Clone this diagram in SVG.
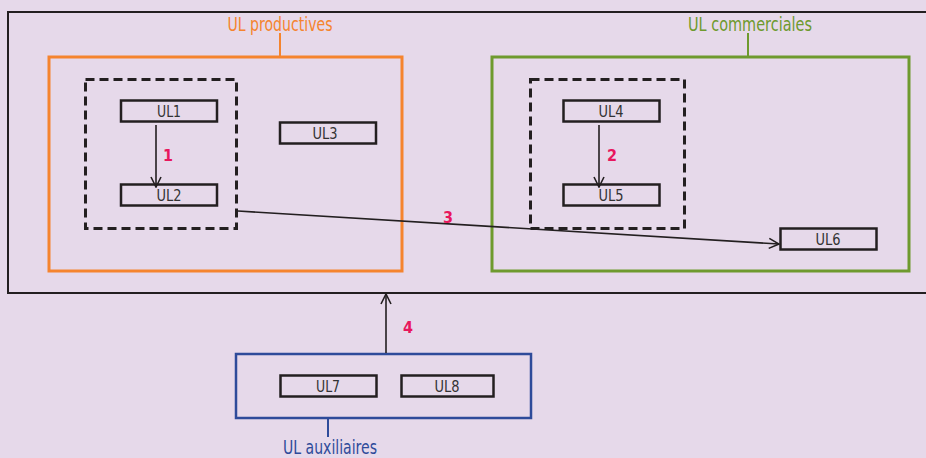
<svg xmlns="http://www.w3.org/2000/svg" width="926" height="458" viewBox="0 0 926 458">
<defs>
<style>
.box{fill:none;stroke:#231f20;stroke-width:2.5}
.dash{fill:none;stroke:#231f20;stroke-width:3;stroke-dasharray:9,5}
.t{font-family:"Liberation Sans Narrow","DejaVu Sans Condensed","Liberation Sans",sans-serif;font-size:16px;fill:#333;text-anchor:middle}
.lbl{font-family:"Liberation Sans Narrow","DejaVu Sans Condensed","Liberation Sans",sans-serif;font-size:20px;text-anchor:middle}
.num{font-family:"Liberation Sans Narrow","DejaVu Sans Condensed","Liberation Sans",sans-serif;font-size:16px;font-weight:bold;fill:#e8175d;text-anchor:middle}
.edge{fill:none;stroke:#231f20;stroke-width:1.6}
</style>
<marker id="arr" viewBox="0 0 12 12" refX="11" refY="6" markerWidth="12" markerHeight="12" markerUnits="userSpaceOnUse" orient="auto">
<path d="M1,1 L11,6 L1,11" fill="none" stroke="#231f20" stroke-width="1.6"/>
</marker>
</defs>
<rect width="926" height="458" fill="#e6d9ea"/>
<g id="outer"><rect x="8" y="12" width="930" height="281" fill="none" stroke="#231f20" stroke-width="2"/></g>
<g id="productives">
<rect x="49" y="57" width="353" height="214" fill="none" stroke="#f5842e" stroke-width="3"/>
<line x1="280" y1="33" x2="280" y2="57" stroke="#f5842e" stroke-width="2"/>
<text class="lbl" x="280" y="31" fill="#f5842e" textLength="105" lengthAdjust="spacingAndGlyphs">UL productives</text>
</g>
<g id="group12"><rect class="dash" x="85.5" y="79.5" width="151" height="149"/></g>
<g id="UL1"><rect class="box" x="121" y="100.5" width="96" height="21"/><text class="t" x="169" y="117" textLength="24" lengthAdjust="spacingAndGlyphs">UL1</text></g>
<g id="UL2"><rect class="box" x="121" y="184.5" width="96" height="21"/><text class="t" x="169" y="201" textLength="25" lengthAdjust="spacingAndGlyphs">UL2</text></g>
<g id="UL3"><rect class="box" x="280" y="122.5" width="96" height="21"/><text class="t" x="325" y="139" textLength="25" lengthAdjust="spacingAndGlyphs">UL3</text></g>
<g id="commerciales">
<rect x="492" y="57" width="417" height="214" fill="none" stroke="#6e9a2e" stroke-width="3"/>
<line x1="748" y1="33" x2="748" y2="57" stroke="#6e9a2e" stroke-width="2"/>
<text class="lbl" x="750" y="31" fill="#6e9a2e" textLength="124" lengthAdjust="spacingAndGlyphs">UL commerciales</text>
</g>
<g id="group45"><rect class="dash" x="530.5" y="79.5" width="154" height="149"/></g>
<g id="UL4"><rect class="box" x="563.5" y="100.5" width="96" height="21"/><text class="t" x="611" y="117" textLength="25" lengthAdjust="spacingAndGlyphs">UL4</text></g>
<g id="UL5"><rect class="box" x="563.5" y="184.5" width="96" height="21"/><text class="t" x="611" y="201" textLength="25" lengthAdjust="spacingAndGlyphs">UL5</text></g>
<g id="UL6"><rect class="box" x="780.5" y="228.5" width="96" height="21"/><text class="t" x="828" y="245" textLength="25" lengthAdjust="spacingAndGlyphs">UL6</text></g>
<g id="auxiliaires">
<rect x="236" y="354" width="295" height="64" fill="none" stroke="#2e4b9a" stroke-width="2.5"/>
<line x1="328" y1="418" x2="328" y2="437" stroke="#2e4b9a" stroke-width="2"/>
<text class="lbl" x="330" y="454" fill="#2e4b9a" textLength="94" lengthAdjust="spacingAndGlyphs">UL auxiliaires</text>
</g>
<g id="UL7"><rect class="box" x="280.5" y="375.5" width="96" height="21"/><text class="t" x="328" y="392" textLength="24" lengthAdjust="spacingAndGlyphs">UL7</text></g>
<g id="UL8"><rect class="box" x="401.5" y="375.5" width="92" height="21"/><text class="t" x="447" y="392" textLength="25" lengthAdjust="spacingAndGlyphs">UL8</text></g>
<g id="connectors">
<line class="edge" x1="156" y1="125" x2="156" y2="187" marker-end="url(#arr)"/>
<line class="edge" x1="599" y1="125" x2="599" y2="187" marker-end="url(#arr)"/>
<line class="edge" x1="238" y1="211" x2="779" y2="244" marker-end="url(#arr)"/>
<line class="edge" x1="386" y1="353" x2="386" y2="294" marker-end="url(#arr)"/>
<text class="num" x="168" y="161">1</text>
<text class="num" x="612" y="161">2</text>
<text class="num" x="448" y="223">3</text>
<text class="num" x="408" y="333">4</text>
</g>
</svg>
